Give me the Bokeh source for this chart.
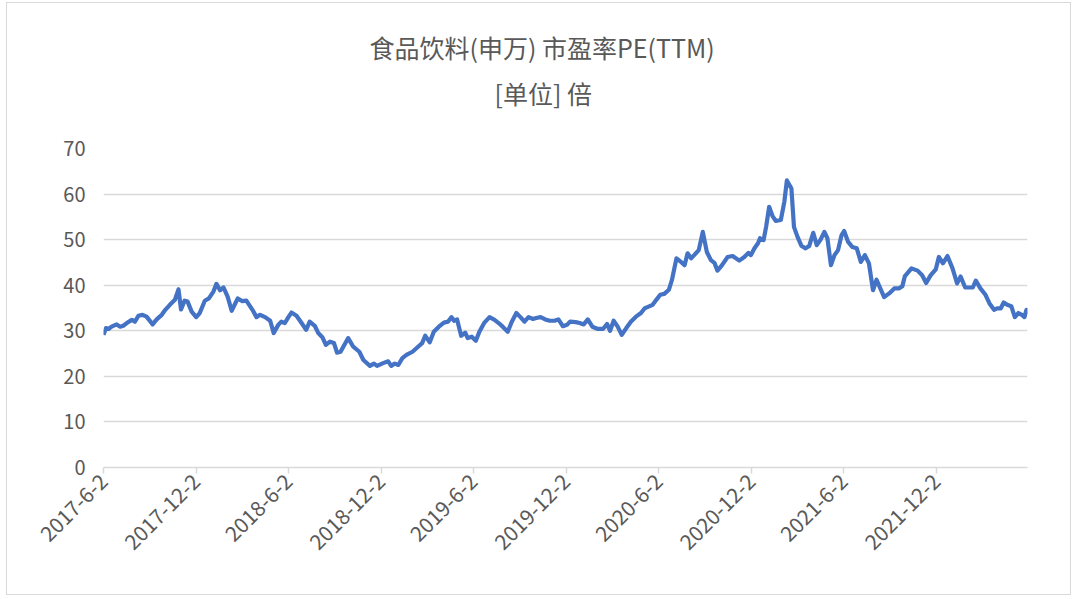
import pandas as pd
from bokeh.plotting import figure
from bokeh.models import FixedTicker, Title, Range1d
from bokeh.embed import file_html
from bokeh.resources import INLINE

# ---------------- data ----------------
dates = [
    "2017-06-02", "2017-06-07", "2017-06-12", "2017-06-18", "2017-06-28", "2017-07-05", "2017-07-11",
    "2017-07-18", "2017-07-28", "2017-08-03", "2017-08-10", "2017-08-18", "2017-08-26", "2017-09-07",
    "2017-09-15", "2017-09-25", "2017-10-02", "2017-10-11", "2017-10-21", "2017-10-28", "2017-11-02",
    "2017-11-09", "2017-11-15", "2017-11-23", "2017-12-02", "2017-12-09", "2017-12-19", "2017-12-27",
    "2018-01-05", "2018-01-11", "2018-01-18", "2018-01-25", "2018-02-02", "2018-02-10", "2018-02-22",
    "2018-03-03", "2018-03-11", "2018-03-23", "2018-03-31", "2018-04-07", "2018-04-17", "2018-04-27",
    "2018-05-04", "2018-05-13", "2018-05-19", "2018-05-26", "2018-06-02", "2018-06-08", "2018-06-18",
    "2018-06-28", "2018-07-07", "2018-07-14", "2018-07-24", "2018-07-31", "2018-08-08", "2018-08-15",
    "2018-08-23", "2018-08-31", "2018-09-06", "2018-09-13", "2018-09-28", "2018-10-08", "2018-10-20",
    "2018-10-28", "2018-11-10", "2018-11-18", "2018-11-24", "2018-12-06", "2018-12-16", "2018-12-22",
    "2018-12-29", "2019-01-05", "2019-01-13", "2019-01-21", "2019-02-02", "2019-02-13", "2019-02-21",
    "2019-02-27", "2019-03-08", "2019-03-16", "2019-03-26", "2019-04-05", "2019-04-13", "2019-04-20",
    "2019-04-25", "2019-05-01", "2019-05-09", "2019-05-17", "2019-05-22", "2019-05-30", "2019-06-07",
    "2019-06-14", "2019-06-24", "2019-07-04", "2019-07-14", "2019-07-22", "2019-07-30", "2019-08-09",
    "2019-08-17", "2019-08-26", "2019-09-03", "2019-09-11", "2019-09-19", "2019-09-28", "2019-10-04",
    "2019-10-13", "2019-10-22", "2019-10-31", "2019-11-09", "2019-11-17", "2019-11-26", "2019-12-04",
    "2019-12-10", "2019-12-21", "2019-12-29", "2020-01-06", "2020-01-14", "2020-01-23", "2020-02-03",
    "2020-02-13", "2020-02-21", "2020-02-27", "2020-03-05", "2020-03-13", "2020-03-21", "2020-03-30",
    "2020-04-08", "2020-04-18", "2020-04-28", "2020-05-05", "2020-05-13", "2020-05-21", "2020-05-29",
    "2020-06-05", "2020-06-13", "2020-06-22", "2020-06-28", "2020-07-07", "2020-07-16", "2020-07-23",
    "2020-07-29", "2020-08-05", "2020-08-11", "2020-08-20", "2020-08-28", "2020-09-05", "2020-09-13",
    "2020-09-20", "2020-09-26", "2020-10-05", "2020-10-16", "2020-10-26", "2020-11-08", "2020-11-18",
    "2020-11-26", "2020-12-01", "2020-12-08", "2020-12-15", "2020-12-19", "2020-12-26", "2020-12-31",
    "2021-01-06", "2021-01-13", "2021-01-19", "2021-01-29", "2021-02-05", "2021-02-10", "2021-02-19",
    "2021-02-24", "2021-03-03", "2021-03-11", "2021-03-19", "2021-03-26", "2021-04-03", "2021-04-10",
    "2021-04-17", "2021-04-25", "2021-05-01", "2021-05-08", "2021-05-15", "2021-05-22", "2021-05-29",
    "2021-06-03", "2021-06-11", "2021-06-19", "2021-06-28", "2021-07-06", "2021-07-14", "2021-07-22",
    "2021-07-30", "2021-08-06", "2021-08-21", "2021-08-31", "2021-09-10", "2021-09-19", "2021-09-26",
    "2021-10-01", "2021-10-14", "2021-10-26", "2021-11-04", "2021-11-12", "2021-11-21", "2021-12-01",
    "2021-12-07", "2021-12-15", "2021-12-24", "2022-01-03", "2022-01-12", "2022-01-19", "2022-01-28",
    "2022-02-06", "2022-02-12", "2022-02-18", "2022-02-27", "2022-03-09", "2022-03-17", "2022-03-26",
    "2022-04-01", "2022-04-08", "2022-04-14", "2022-04-21", "2022-04-29", "2022-05-06", "2022-05-13",
    "2022-05-20", "2022-05-25", "2022-05-29", "2022-05-31",
]

pe_ttm = [
    29.1, 30.6, 30.4, 30.9, 31.4, 30.9, 31.1,
    31.7, 32.4, 32.0, 33.3, 33.5, 33.1, 31.4,
    32.5, 33.5, 34.6, 35.7, 36.8, 39.1, 34.7,
    36.6, 36.4, 34.2, 33.0, 33.9, 36.6, 37.1,
    38.6, 40.3, 38.9, 39.5, 37.5, 34.4, 37.1,
    36.5, 36.6, 34.6, 33.0, 33.5, 33.0, 32.2,
    29.5, 31.3, 32.0, 31.7, 33.0, 34.0, 33.3,
    31.7, 30.2, 32.0, 31.1, 29.5, 28.6, 26.9,
    27.6, 27.3, 25.2, 25.4, 28.4, 26.5, 25.4,
    23.6, 22.3, 22.8, 22.3, 22.9, 23.3, 22.3,
    22.8, 22.5, 24.0, 24.7, 25.4, 26.5, 27.3,
    28.9, 27.5, 29.8, 30.9, 31.8, 32.0, 33.0,
    32.2, 32.5, 28.9, 29.6, 28.4, 28.7, 27.8,
    29.8, 31.8, 33.0, 32.4, 31.7, 30.9, 29.8,
    32.0, 33.9, 33.0, 32.0, 33.0, 32.6, 32.8,
    33.0, 32.5, 32.2, 32.2, 32.5, 31.0, 31.3,
    32.0, 31.9, 31.7, 31.4, 32.5, 30.9, 30.4,
    30.4, 31.5, 30.0, 32.2, 30.9, 29.1, 30.6,
    32.0, 33.1, 33.9, 34.9, 35.3, 35.7, 36.9,
    37.9, 38.1, 39.0, 41.1, 45.9, 45.1, 44.4,
    47.0, 45.9, 46.6, 47.7, 51.7, 47.3, 45.5,
    44.9, 43.2, 44.4, 46.2, 46.4, 45.4, 46.2,
    47.1, 46.6, 48.1, 49.2, 50.3, 49.9, 52.8,
    57.2, 55.1, 54.1, 54.3, 58.3, 63.0, 61.2,
    52.8, 50.6, 48.6, 48.1, 48.6, 51.5, 48.8,
    49.9, 51.7, 50.3, 44.4, 46.6, 47.7, 51.0,
    51.9, 49.5, 48.4, 48.1, 45.1, 46.6, 44.8,
    38.9, 41.2, 37.4, 38.2, 39.3, 39.3, 39.8,
    42.0, 43.7, 43.2, 42.2, 40.5, 42.2, 43.5,
    46.2, 44.8, 46.4, 43.7, 40.4, 41.9, 39.5,
    39.5, 39.5, 41.0, 39.3, 37.9, 36.0, 34.6,
    34.9, 34.9, 36.2, 35.7, 35.4, 33.0, 33.9,
    33.5, 33.0, 34.6, 33.6,
]

tick_dates = ["2017-06-02", "2017-12-02", "2018-06-02", "2018-12-02", "2019-06-02",
              "2019-12-02", "2020-06-02", "2020-12-02", "2021-06-02", "2021-12-02"]
tick_labels = ["2017-6-2", "2017-12-2", "2018-6-2", "2018-12-2", "2019-6-2",
               "2019-12-2", "2020-6-2", "2020-12-2", "2021-6-2", "2021-12-2"]
y_ticks = [0, 10, 20, 30, 40, 50, 60, 70]

title_text = "食品饮料(申万) 市盈率PE(TTM)"
subtitle_text = "[单位] 倍"

# ---------------- styling ----------------
FONT = "Noto Sans CJK SC"
TEXT_COLOR = "#595959"
GRID_COLOR = "#d9d9d9"
LINE_COLOR = "#4472C4"

x = pd.to_datetime(dates)
tick_ms = [pd.Timestamp(d).value / 1e6 for d in tick_dates]

p = figure(
    width=1065, height=593,
    x_axis_type="datetime",
    x_range=Range1d(start=x.min(), end=x.max()),
    y_range=Range1d(start=y_ticks[0], end=y_ticks[-1]),
    output_backend="svg",
    toolbar_location=None,
    min_border_left=96, min_border_right=45,
    min_border_top=145, min_border_bottom=129,
    styles={"border": "1.5px solid #d9d9d9", "margin": "2px 0 0 6px"},
)
p.outline_line_color = None
p.background_fill_color = "white"
p.border_fill_color = "white"

p.line(x, pe_ttm, line_color=LINE_COLOR, line_width=4.2, line_join="round")

# titles (left-aligned with an offset so they sit centred on the whole card)
p.title.text = title_text
p.title.align = "left"
p.title.offset = 266
p.title.text_font = FONT
p.title.text_font_size = "25px"
p.title.text_font_style = "normal"
p.title.text_color = TEXT_COLOR
p.title.standoff = -59
sub = Title(text=subtitle_text, align="left", offset=391, text_font=FONT, text_font_size="25px",
            text_font_style="normal", text_color=TEXT_COLOR, standoff=75)
p.add_layout(sub, "above")

# y axis
p.yaxis.ticker = FixedTicker(ticks=y_ticks)
p.yaxis.axis_line_color = None
p.yaxis.major_tick_line_color = None
p.yaxis.minor_tick_line_color = None
p.yaxis.major_label_standoff = 12
p.yaxis.major_label_text_font = FONT
p.yaxis.major_label_text_font_size = "20px"
p.yaxis.major_label_text_color = TEXT_COLOR

p.ygrid.grid_line_color = GRID_COLOR
p.ygrid.grid_line_width = 1.5
p.xgrid.grid_line_color = None

# x axis
p.xaxis.ticker = FixedTicker(ticks=tick_ms)
p.xaxis.major_label_overrides = {t: lab for t, lab in zip(tick_ms, tick_labels)}
p.xaxis.axis_line_color = GRID_COLOR
p.xaxis.axis_line_width = 1.5
p.xaxis.major_tick_line_color = GRID_COLOR
p.xaxis.major_tick_line_width = 1.5
p.xaxis.major_tick_out = 6
p.xaxis.major_tick_in = 0
p.xaxis.minor_tick_line_color = None
p.xaxis.major_label_orientation = 0.785398
p.xaxis.major_label_standoff = 4
p.xaxis.major_label_text_font = FONT
p.xaxis.major_label_text_font_size = "21px"
p.xaxis.major_label_text_color = TEXT_COLOR

open("out.html", "w").write(file_html(p, INLINE))
